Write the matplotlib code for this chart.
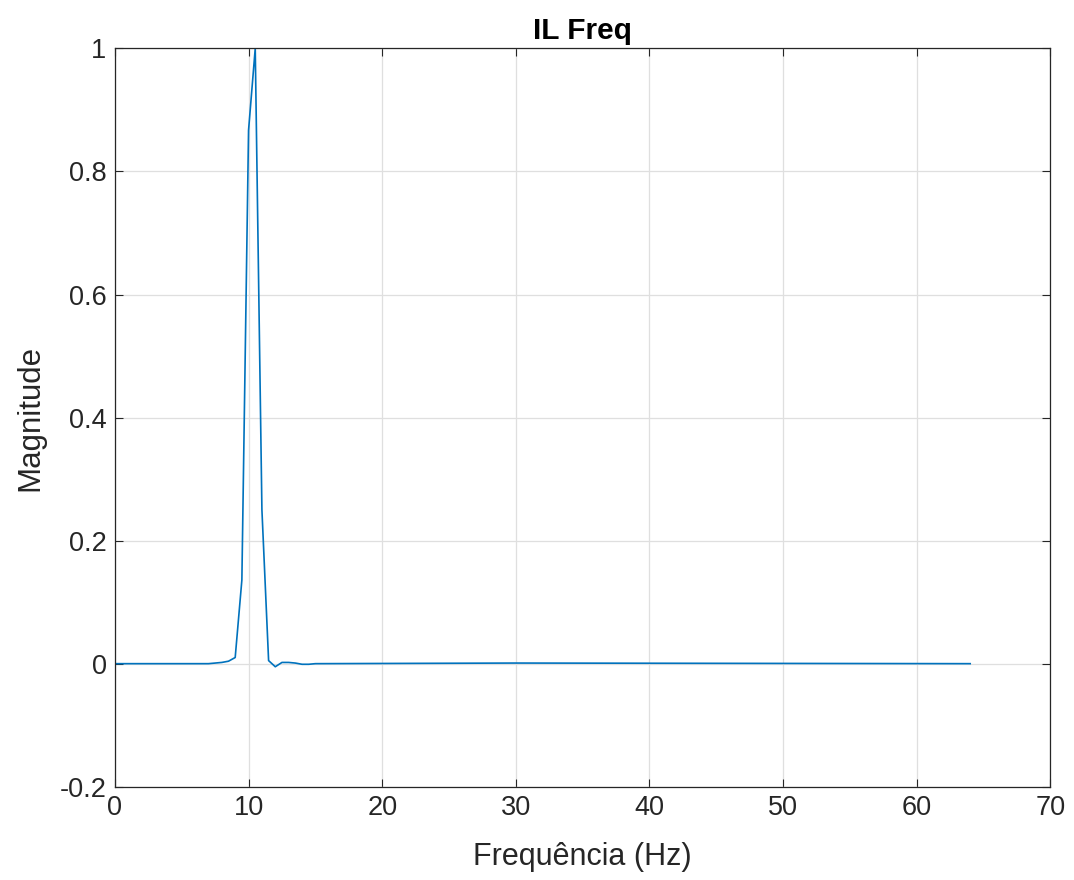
import numpy as np
import matplotlib.pyplot as plt

# spectrum points (flat ~0 outside the peak)
freq = [0, 5, 7, 7.5, 8, 8.5, 9, 9.5, 10, 10.5, 11, 11.5, 12, 12.5, 13, 13.5, 14, 14.5, 15, 30, 64]
mag = [0, 0, 0, 0.001, 0.002, 0.004, 0.01, 0.136, 0.867, 1.0, 0.25, 0.005, -0.005, 0.002, 0.002, 0.001, -0.001, -0.001, 0, 0.001, 0]

xticks = np.arange(0, 71, 10)
yticks = [-0.2, 0, 0.2, 0.4, 0.6, 0.8, 1]
yticklabels = ['-0.2', '0', '0.2', '0.4', '0.6', '0.8', '1']

plt.rcParams['font.family'] = ['Liberation Sans', 'DejaVu Sans']

fig = plt.figure(figsize=(10.74, 8.8), dpi=100)
ax = fig.add_axes([0.107, 0.106, 0.871, 0.839])

ax.plot(freq, mag, color='#0072BD', linewidth=1.2)

ax.set_xlim(0, 70)
ax.set_ylim(-0.2, 1)
ax.set_xticks(xticks)
ax.set_yticks(yticks)
ax.set_yticklabels(yticklabels)
ax.grid(True, color='#dfdfdf', linewidth=0.9)
ax.set_axisbelow(True)
ax.tick_params(direction='in', length=6, width=0.8, colors='#262626',
               labelsize=19.5, top=True, right=True, pad=6)
for s in ax.spines.values():
    s.set_color('#262626')
    s.set_linewidth(0.9)

ax.set_xlabel('Frequência (Hz)', fontsize=22, color='#262626', labelpad=15)
ax.set_ylabel('Magnitude', fontsize=22.5, color='#262626', labelpad=10)
ax.set_title('IL Freq', fontsize=21.5, fontweight='bold', pad=7)

fig.savefig('out.png', dpi=100)
